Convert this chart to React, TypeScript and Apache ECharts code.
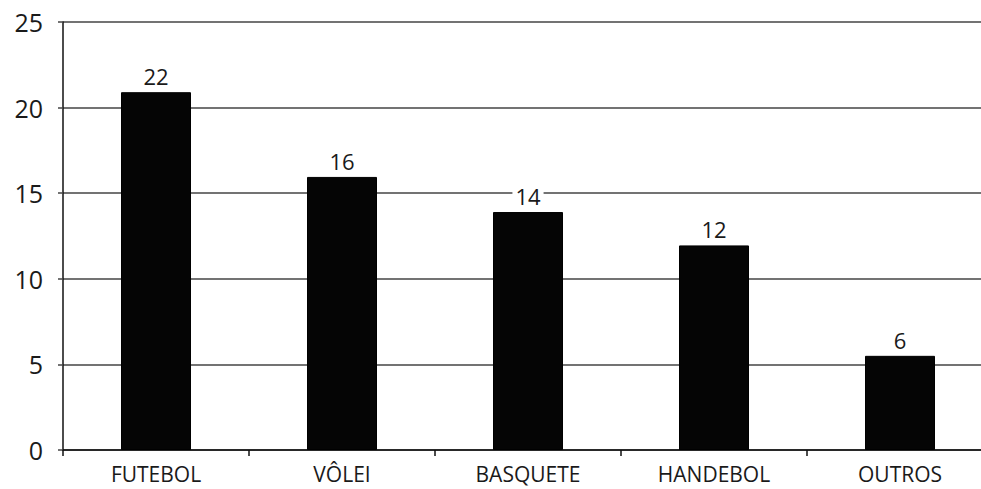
import React, { useEffect, useRef } from "react";
import * as echarts from "echarts";

const categories = ["FUTEBOL", "VÔLEI", "BASQUETE", "HANDEBOL", "OUTROS"];
const barValues = [20.9, 15.95, 13.9, 11.95, 5.5];
const barLabels = ["22", "16", "14", "12", "6"];
const yTicks = { min: 0, max: 25, interval: 5 };

const FONT = "'Open Sans', 'Noto Sans', sans-serif";

export default function App() {
  const ref = useRef<HTMLDivElement>(null);
  useEffect(() => {
    if (!ref.current) return;
    const chart = echarts.init(ref.current, null, { renderer: "svg" });
    chart.setOption({
      animation: false,
      backgroundColor: "#ffffff",
      grid: { left: 63, right: 7, top: 22, bottom: 39, containLabel: false },
      xAxis: {
        type: "category",
        data: categories,
        axisLine: { show: true, lineStyle: { color: "#111", width: 1.5 } },
        axisTick: { show: true, length: 6, inside: false, lineStyle: { color: "#111", width: 1.5 } },
        axisLabel: {
          color: "#1a1a1a",
          fontFamily: FONT,
          fontSize: 21,
          margin: 13,
        },
      },
      yAxis: {
        type: "value",
        min: yTicks.min,
        max: yTicks.max,
        interval: yTicks.interval,
        axisLine: { show: true, lineStyle: { color: "#111", width: 1.5 } },
        axisTick: { show: true, length: 5, lineStyle: { color: "#444", width: 1.5 } },
        axisLabel: {
          color: "#1a1a1a",
          fontFamily: FONT,
          fontSize: 25,
          margin: 20,
        },
        splitLine: { show: true, lineStyle: { color: "#444", width: 1.6 } },
      },
      series: [
        {
          type: "bar",
          data: barValues,
          barWidth: 70,
          itemStyle: { color: "#050505", borderColor: "#000", borderWidth: 1 },
          label: {
            show: true,
            position: "top",
            distance: 5,
            color: "#1a1a1a",
            fontFamily: FONT,
            fontSize: 22,
            backgroundColor: "#ffffff",
            padding: [0, 3],
            formatter: (p: any) => barLabels[p.dataIndex],
          },
        },
      ],
    });
    return () => chart.dispose();
  }, []);
  return (
    <div
      ref={ref}
      style={{ position: "fixed", left: 0, top: 0, width: 1000, height: 489 }}
    />
  );
}
